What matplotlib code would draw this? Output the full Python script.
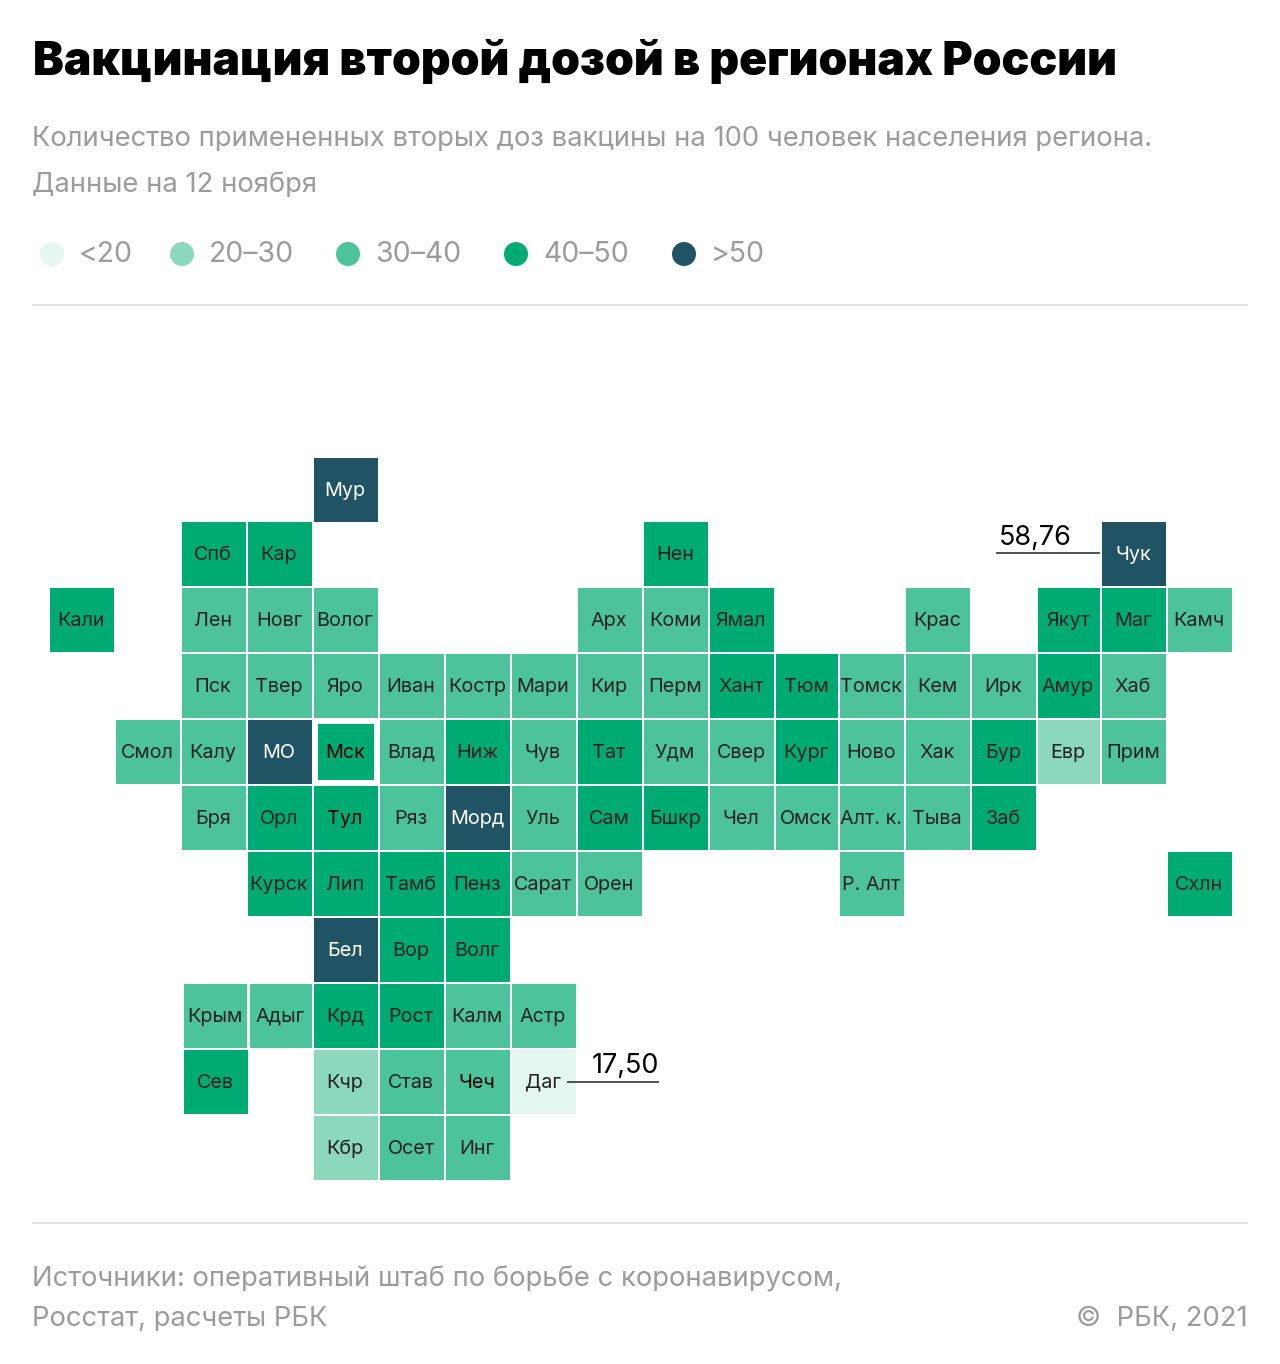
import matplotlib
matplotlib.use("Agg")
import matplotlib.pyplot as plt
from matplotlib.patches import Rectangle, Circle

plt.rcParams['font.family'] = ['Inter', 'DejaVu Sans']

# регионы по рядам: название, колонка, класс (0 = <20 ... 4 = >50)
row0 = [("Мур", 4, 4)]
row1 = [("Спб", 2, 3), ("Кар", 3, 3), ("Нен", 9, 3), ("Чук", 16, 4)]
row2 = [("Кали", 0, 3), ("Лен", 2, 2), ("Новг", 3, 2), ("Волог", 4, 2), ("Арх", 8, 2), ("Коми", 9, 2),
        ("Ямал", 10, 3), ("Крас", 13, 2), ("Якут", 15, 3), ("Маг", 16, 3), ("Камч", 17, 2)]
row3 = [("Пск", 2, 2), ("Твер", 3, 2), ("Яро", 4, 2), ("Иван", 5, 2), ("Костр", 6, 2), ("Мари", 7, 2),
        ("Кир", 8, 2), ("Перм", 9, 2), ("Хант", 10, 3), ("Тюм", 11, 3), ("Томск", 12, 2), ("Кем", 13, 2),
        ("Ирк", 14, 2), ("Амур", 15, 3), ("Хаб", 16, 2)]
row4 = [("Смол", 1, 2), ("Калу", 2, 2), ("МО", 3, 4), ("Мск", 4, 3), ("Влад", 5, 2), ("Ниж", 6, 3),
        ("Чув", 7, 2), ("Тат", 8, 3), ("Удм", 9, 2), ("Свер", 10, 2), ("Кург", 11, 3), ("Ново", 12, 2),
        ("Хак", 13, 2), ("Бур", 14, 3), ("Евр", 15, 1), ("Прим", 16, 2)]
row5 = [("Бря", 2, 2), ("Орл", 3, 3), ("Тул", 4, 3), ("Ряз", 5, 2), ("Морд", 6, 4), ("Уль", 7, 2),
        ("Сам", 8, 3), ("Бшкр", 9, 3), ("Чел", 10, 2), ("Омск", 11, 2), ("Алт. к.", 12, 2), ("Тыва", 13, 2),
        ("Заб", 14, 3)]
row6 = [("Курск", 3, 3), ("Лип", 4, 3), ("Тамб", 5, 3), ("Пенз", 6, 3), ("Сарат", 7, 2), ("Орен", 8, 2),
        ("Р. Алт", 12, 2), ("Схлн", 17, 3)]
row7 = [("Бел", 4, 4), ("Вор", 5, 3), ("Волг", 6, 3)]
row8 = [("Крым", 2, 2), ("Адыг", 3, 2), ("Крд", 4, 3), ("Рост", 5, 3), ("Калм", 6, 2), ("Астр", 7, 2)]
row9 = [("Сев", 2, 3), ("Кчр", 4, 1), ("Став", 5, 2), ("Чеч", 6, 2), ("Даг", 7, 0)]
row10 = [("Кбр", 4, 1), ("Осет", 5, 2), ("Инг", 6, 2)]
rows = [row0, row1, row2, row3, row4, row5, row6, row7, row8, row9, row10]

legend_labels = ["<20", "20–30", "30–40", "40–50", ">50"]
colors = ["#e3f6f0", "#8cd8bc", "#4dc39b", "#00ab73", "#205364"]

# левые края колонок и верхние края рядов, в пикселях
col_x = [50, 116, 182, 248, 314, 380, 446, 512, 578, 644, 710, 776, 840, 906, 972, 1038, 1102, 1168]
col_w = [64, 64, 64, 64, 64, 64, 64, 64, 64, 64, 64, 62, 64, 64, 64, 62, 64, 64]
row_y = [458, 522, 588, 654, 720, 786, 852, 918, 984, 1050, 1116]
cell_h = 64

grey = "#9b9b9b"
fig = plt.figure(figsize=(12.8, 13.64), dpi=100)
ax = fig.add_axes([0, 0, 1, 1])
ax.set_xlim(0, 1280)
ax.set_ylim(1364, 0)
ax.axis("off")


def px(size):
    return size * 0.72


ax.text(33, 63, "Вакцинация второй дозой в регионах России", fontsize=px(46.3), fontweight="black",
        color="black", va="center", ha="left")
ax.text(32, 139, "Количество примененных вторых доз вакцины на 100 человек населения региона.",
        fontsize=px(27.4), color=grey, va="center", ha="left")
ax.text(32, 185, "Данные на 12 ноября", fontsize=px(27.4), color=grey, va="center", ha="left")

legend_x = [52, 182, 348, 516, 684]
legend_text_x = [79, 209, 375, 543, 711]
for i, lab in enumerate(legend_labels):
    ax.add_patch(Circle((legend_x[i], 254), 12, color=colors[i], lw=0))
    ax.text(legend_text_x[i], 255, lab, fontsize=px(28.4), color=grey, va="center", ha="left")

ax.plot([32, 1248], [305, 305], color="#e2e2e2", lw=1.5, solid_capstyle="butt")
ax.plot([32, 1248], [1223, 1223], color="#e2e2e2", lw=1.5, solid_capstyle="butt")

for r, row in enumerate(rows):
    for name, c, cls in row:
        x = col_x[c]
        y = row_y[r]
        w = col_w[c]
        if name in ("Крым", "Сев"):
            x += 2  # эти две клетки чуть сдвинуты
        if name == "Крым":
            w -= 1
        if name == "Адыг":
            x += 2
            w -= 2
        if name == "Мск":
            ax.add_patch(Rectangle((x + 4, y + 4), 56, 56, color=colors[cls], lw=0))
        else:
            ax.add_patch(Rectangle((x, y), w, cell_h, color=colors[cls], lw=0))
        tc = "white" if cls == 4 else "#222222"
        if name in ("Мск", "Тул", "Чеч"):
            tc = "black"
        ax.text(x + w / 2 - 1, y + cell_h / 2 + 1, name, fontsize=px(19.8), color=tc, va="center", ha="center")

# подписи максимума и минимума
ax.plot([996, 1100], [553, 553], color="#333333", lw=1.2, solid_capstyle="butt")
ax.text(999, 538, "58,76", fontsize=px(27), color="black", va="center", ha="left")
ax.plot([567, 659], [1082, 1082], color="#333333", lw=1.2, solid_capstyle="butt")
ax.text(592, 1066, "17,50", fontsize=px(27), color="black", va="center", ha="left")

ax.text(32, 1279, "Источники: оперативный штаб по борьбе с коронавирусом,", fontsize=px(27.4), color=grey,
        va="center", ha="left")
ax.text(32, 1319, "Росстат, расчеты РБК", fontsize=px(27.4), color=grey, va="center", ha="left")
ax.text(1248, 1319, "©  РБК, 2021", fontsize=px(27.4), color=grey, va="center", ha="right")

fig.savefig("out.png", dpi=100)
